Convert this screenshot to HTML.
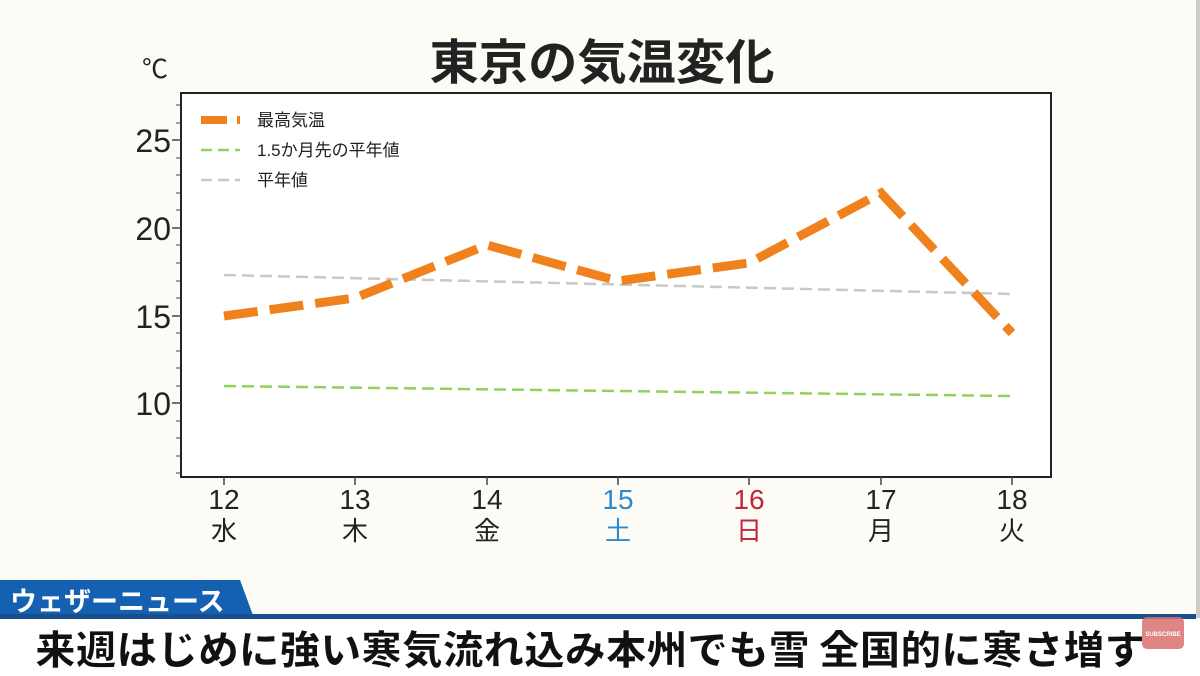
<!DOCTYPE html>
<html><head><meta charset="utf-8"><style>
body{margin:0;width:1200px;height:676px;overflow:hidden;background:#fff;font-family:"Liberation Sans","Noto Sans CJK JP",sans-serif}
</style></head><body>
<svg width="1200" height="676" xmlns="http://www.w3.org/2000/svg" style="position:absolute;left:0;top:0">
<rect x="0" y="0" width="1200" height="618" fill="#fdfbf6"/>
<rect x="1196" y="0" width="4" height="618" fill="#ccc"/>
<text x="602" y="79" text-anchor="middle" font-size="48" font-weight="bold" fill="#222" font-family="Noto Sans CJK JP,sans-serif" textLength="345" lengthAdjust="spacingAndGlyphs">東京の気温変化</text>
<text x="155" y="78" text-anchor="middle" font-size="26" fill="#222">℃</text>
<rect x="181" y="93" width="870" height="384" fill="#fff" stroke="#222" stroke-width="2"/>
<g stroke="#444" stroke-width="1.5">
<line x1="172" y1="140" x2="181" y2="140"/><line x1="172" y1="228" x2="181" y2="228"/><line x1="172" y1="316" x2="181" y2="316"/><line x1="172" y1="403" x2="181" y2="403"/>
<g stroke-width="1">
<line x1="176" y1="105" x2="181" y2="105"/><line x1="176" y1="123" x2="181" y2="123"/><line x1="176" y1="158" x2="181" y2="158"/><line x1="176" y1="175" x2="181" y2="175"/><line x1="176" y1="193" x2="181" y2="193"/><line x1="176" y1="210" x2="181" y2="210"/><line x1="176" y1="245" x2="181" y2="245"/><line x1="176" y1="263" x2="181" y2="263"/><line x1="176" y1="281" x2="181" y2="281"/><line x1="176" y1="298" x2="181" y2="298"/><line x1="176" y1="333" x2="181" y2="333"/><line x1="176" y1="351" x2="181" y2="351"/><line x1="176" y1="368" x2="181" y2="368"/><line x1="176" y1="386" x2="181" y2="386"/><line x1="176" y1="421" x2="181" y2="421"/><line x1="176" y1="438" x2="181" y2="438"/><line x1="176" y1="456" x2="181" y2="456"/><line x1="176" y1="473" x2="181" y2="473"/>
</g>
<line x1="224" y1="477" x2="224" y2="485"/><line x1="355" y1="477" x2="355" y2="485"/><line x1="487" y1="477" x2="487" y2="485"/><line x1="618" y1="477" x2="618" y2="485"/><line x1="749" y1="477" x2="749" y2="485"/><line x1="881" y1="477" x2="881" y2="485"/><line x1="1012" y1="477" x2="1012" y2="485"/>
</g>
<g font-size="32" fill="#222" text-anchor="end">
<text x="171" y="152">25</text><text x="171" y="240">20</text><text x="171" y="328">15</text><text x="171" y="415">10</text>
</g>
<g font-size="28" fill="#222" text-anchor="middle">
<text x="224" y="509">12</text><text x="355" y="509">13</text><text x="487" y="509">14</text><text x="618" y="509" fill="#2a8ad0">15</text><text x="749" y="509" fill="#c0283a">16</text><text x="881" y="509">17</text><text x="1012" y="509">18</text>
</g>
<g font-size="26" fill="#222" text-anchor="middle" font-family="Noto Sans CJK JP,sans-serif">
<text x="224" y="540">水</text><text x="355" y="540">木</text><text x="487" y="540">金</text><text x="618" y="540" fill="#2a8ad0">土</text><text x="749" y="540" fill="#c0283a">日</text><text x="881" y="540">月</text><text x="1012" y="540">火</text>
</g>
<polyline points="224,275 1012,294" fill="none" stroke="#c8c8c8" stroke-width="2.5" stroke-dasharray="12,6"/>
<polyline points="224,386 1012,396" fill="none" stroke="#8fd35a" stroke-width="2.5" stroke-dasharray="12,6"/>
<polyline points="224,316 355,298 487,245 618,281 749,263 881,193 1012,333" fill="none" stroke="#f0821e" stroke-width="9" stroke-dasharray="34,12"/>
<line x1="201" y1="120" x2="227" y2="120" stroke="#f0821e" stroke-width="8"/><line x1="237" y1="120" x2="240" y2="120" stroke="#f0821e" stroke-width="8"/>
<line x1="201" y1="150" x2="240" y2="150" stroke="#8fd35a" stroke-width="2.5" stroke-dasharray="11,6"/>
<line x1="201" y1="180" x2="240" y2="180" stroke="#c8c8c8" stroke-width="2.5" stroke-dasharray="11,6"/>
<g font-size="17" fill="#222" font-family="Liberation Sans,Noto Sans CJK JP,sans-serif">
<text x="257" y="126">最高気温</text><text x="257" y="156">1.5か月先の平年値</text><text x="257" y="186">平年値</text>
</g>
<polygon points="0,580 240,580 254,618 0,618" fill="#1560b0"/>
<rect x="0" y="614" width="1196" height="5" fill="#1a4f8f"/>
<text x="10" y="611" font-size="27" font-weight="bold" fill="#fff" font-family="Noto Sans CJK JP,sans-serif">ウェザーニュース</text>
<text x="590" y="664" text-anchor="middle" font-size="40" font-weight="900" fill="#111" stroke="#fff" stroke-width="1" font-family="Noto Sans CJK JP,sans-serif" textLength="1110" lengthAdjust="spacingAndGlyphs">来週はじめに強い寒気流れ込み本州でも雪 全国的に寒さ増す</text>
<rect x="1142" y="617" width="42" height="32" rx="5" fill="#d9706e" opacity="0.85"/>
<text x="1163" y="636" font-size="6" fill="#fff" text-anchor="middle" font-weight="bold">SUBSCRIBE</text>
</svg>
</body></html>
